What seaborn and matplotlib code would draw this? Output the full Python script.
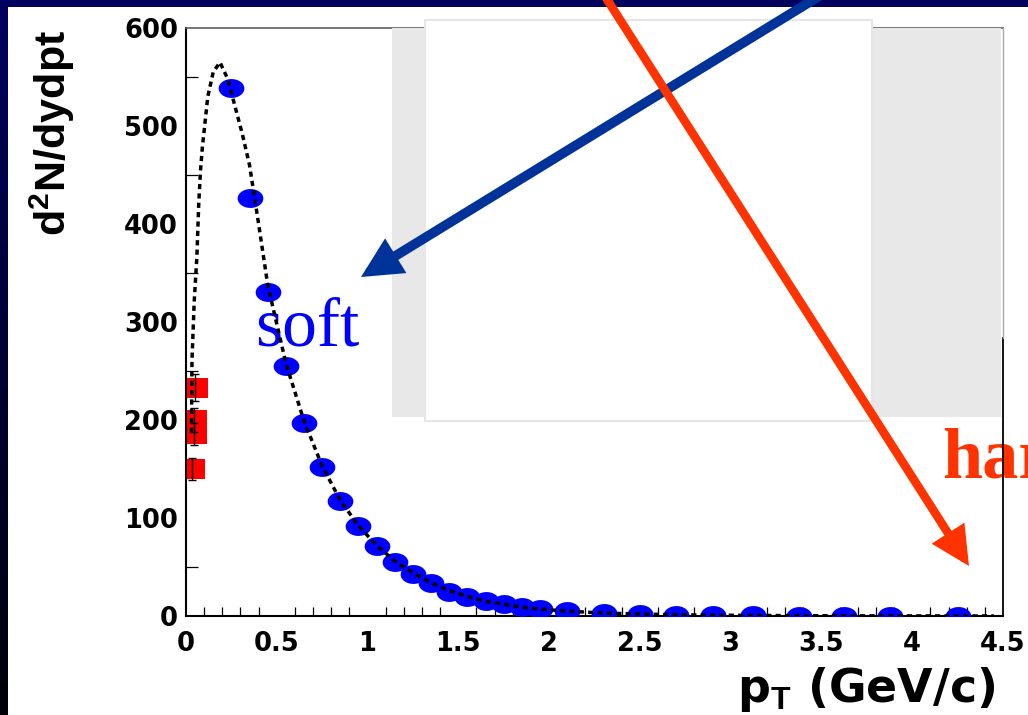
import numpy as np
import matplotlib
matplotlib.use("Agg")
import matplotlib.pyplot as plt
import seaborn as sns
from matplotlib.path import Path
from matplotlib.patches import Rectangle, FancyArrowPatch, ArrowStyle
from matplotlib.lines import Line2D
from matplotlib.ticker import MultipleLocator

# ---- data -------------------------------------------------------------
# measured pT spectrum (blue points)
pt = [0.25, 0.35, 0.45, 0.55, 0.65, 0.75, 0.85, 0.95, 1.05, 1.15, 1.25,
      1.35, 1.45, 1.55, 1.65, 1.75, 1.85, 1.95, 2.1, 2.3, 2.5, 2.7, 2.9,
      3.125, 3.375, 3.625, 3.875, 4.25]
dndpt = [539, 427, 331, 255, 197, 152, 117, 92, 71.5, 55, 43,
         34, 25, 19, 15, 12, 9, 7, 5, 3, 2, 1.3, 0.9,
         0.6, 0.35, 0.2, 0.12, 0.06]

# low-pT points (red squares) with errors
pt_low = [0.050, 0.045, 0.043, 0.035]
dndpt_low = [233, 200, 186, 150]
err_low = [14, 12, 11, 11]

# fit function (dotted curve)
fit_pt = [0.030, 0.033, 0.045, 0.060, 0.070, 0.080, 0.090, 0.105, 0.120,
          0.150, 0.187, 0.230, 0.270, 0.310, 0.350, 0.400, 0.450, 0.550,
          0.650, 0.750, 0.850, 0.950, 1.050, 1.150, 1.250, 1.350, 1.450,
          1.550, 1.650, 1.750, 1.850, 1.950, 2.100, 2.300, 2.500, 2.700,
          2.900, 3.100, 3.400, 3.600, 3.900, 4.200, 4.450]
fit_val = [187, 261, 320, 367, 420, 455, 478, 504, 530,
           555, 565, 548, 520, 492, 460, 400, 338, 258,
           199, 153, 118, 92, 72, 56, 44, 34, 26,
           20, 15, 12, 9, 7, 5, 3, 2, 1.3,
           0.9, 0.6, 0.35, 0.2, 0.12, 0.07, 0.04]

xticks = [0, 0.5, 1, 1.5, 2, 2.5, 3, 3.5, 4, 4.5]
xtick_labels = ["0", "0.5", "1", "1.5", "2", "2.5", "3", "3.5", "4", "4.5"]
yticks = [0, 100, 200, 300, 400, 500, 600]
ytick_labels = ["0", "100", "200", "300", "400", "500", "600"]

# ---- style ------------------------------------------------------------
sns.set_theme(style="white")
plt.rcParams["font.family"] = ["DejaVu Sans"]
plt.rcParams["font.weight"] = "bold"
plt.rcParams["mathtext.fontset"] = "custom"
plt.rcParams["mathtext.bf"] = "Liberation Sans:bold"
plt.rcParams["mathtext.rm"] = "Liberation Sans:bold"
plt.rcParams["mathtext.it"] = "Liberation Sans:bold"

W, H = 1028, 715
fig = plt.figure(figsize=(W / 100, H / 100), dpi=100)
fig.patch.set_facecolor("white")


def fx(px):
    return px / W


def fy(py):
    return 1 - py / H


ax = fig.add_axes([fx(186), fy(616), (1003 - 186) / W, (616 - 28) / H])
ax.set_facecolor("white")

# marker shapes: flattened ellipse and wide square
theta = np.linspace(0, 2 * np.pi, 65)
ellipse = Path(np.column_stack([1.36 * np.cos(theta), np.sin(theta)]), closed=True)
wide_sq = Path([(-1.27, -1), (1.27, -1), (1.27, 1), (-1.27, 1), (-1.27, -1)], closed=True)

sns.scatterplot(x=pt_low, y=dndpt_low, marker=wide_sq, s=18.5 ** 2,
                color="#ff0000", linewidth=0, ax=ax, zorder=2)
ax.errorbar(pt_low, dndpt_low, yerr=err_low, fmt="none", ecolor="black",
            elinewidth=1.0, capsize=3, capthick=1.0, zorder=2.2)
sns.scatterplot(x=pt, y=dndpt, marker=ellipse, s=18.5 ** 2,
                color="#0000ff", linewidth=0, ax=ax, zorder=3)
sns.lineplot(x=fit_pt, y=fit_val, sort=False, estimator=None, color="black",
             lw=2.5, ax=ax, zorder=4)
ax.lines[-1].set_dashes((1.5, 1.2))

ax.set_xlim(0, 4.5)
ax.set_ylim(0, 600)
ax.set_xlabel("")
ax.set_ylabel("")
ax.set_xticks(xticks, xtick_labels)
ax.set_yticks(yticks, ytick_labels)
ax.xaxis.set_minor_locator(MultipleLocator(0.1))
ax.yaxis.set_minor_locator(MultipleLocator(50))
ax.tick_params(axis="y", which="major", direction="in", length=18, width=0.9,
               pad=5.8, labelsize=18.5, color="black", labelcolor="black")
ax.tick_params(axis="y", which="minor", direction="in", length=8.6, width=0.9,
               color="black", left=True)
ax.tick_params(axis="x", which="major", direction="in", length=13, width=0.9,
               pad=11, labelsize=18.5, color="black", labelcolor="black")
ax.tick_params(axis="x", which="minor", direction="in", length=6.5, width=0.9,
               color="black", bottom=True)
for lbl in ax.get_xticklabels() + ax.get_yticklabels():
    lbl.set_fontweight("bold")

for side in ["left", "bottom"]:
    ax.spines[side].set_color("black")
    ax.spines[side].set_linewidth(1.5)
ax.spines["top"].set_color("#606060")
ax.spines["top"].set_linewidth(1.2)
ax.spines["right"].set_color("black")
ax.spines["right"].set_linewidth(1.3)
ax.spines["right"].set_bounds(0, 284)

# axis titles
fig.text(fx(52), fy(30), r"$\mathbf{d^{2}N/dydpt}$", rotation=90,
         ha="center", va="top", fontsize=31, color="black")
fig.text(fx(995), fy(702), r"p$_{\mathbf{T}}$ (GeV/c)", ha="right",
         va="baseline", fontsize=33, fontweight="bold", color="black")

# annotations
ax.text(fx(255), fy(346), "soft", transform=fig.transFigure,
        family="Liberation Serif", fontweight="normal", fontsize=50,
        color="#0000ff", ha="left", va="baseline", zorder=1.5)
ax.text(fx(942), fy(477), "hard", transform=fig.transFigure,
        family="Liberation Serif", fontweight="bold", fontsize=52,
        color="#ff3300", ha="left", va="baseline", zorder=0.5, clip_on=False)

# overlay panels
fig.add_artist(Rectangle((fx(392), fy(417)), (1001 - 392) / W, (417 - 28) / H,
                         transform=fig.transFigure, facecolor="#e8e8e8",
                         edgecolor="none", zorder=1))
fig.add_artist(Line2D([fx(1003), fx(1003)], [fy(338), fy(28)],
                      transform=fig.transFigure, color="#a8a8a8", lw=1.0, zorder=1.1))
fig.add_artist(Rectangle((fx(425), fy(421)), (872 - 425) / W, (421 - 20) / H,
                         transform=fig.transFigure, facecolor="white",
                         edgecolor="#e6e6e6", lw=1.5, zorder=1.2))

# slide border
fig.add_artist(Rectangle((0, fy(7)), 1, 7 / H, transform=fig.transFigure,
                         facecolor="#00005f", edgecolor="none", zorder=1.5))
ax_strip = fig.add_axes([0, 0, 8 / W, 1 - 7 / H])
grad = np.linspace(0, 1, 256)[:, None, None]
top_c = np.array([0.0, 0.0, 0.37])
bot_c = np.array([0.0, 0.0, 0.04])
ax_strip.imshow(top_c * (1 - grad) + bot_c * grad, aspect="auto")
ax_strip.set_axis_off()

# arrows
blue_arrow = FancyArrowPatch((fx(826), fy(-8)), (fx(361), fy(277)),
                             transform=fig.transFigure,
                             arrowstyle=ArrowStyle("-|>", head_length=18, head_width=9),
                             color="#003399", lw=7, shrinkA=0, shrinkB=0,
                             mutation_scale=1, zorder=5, joinstyle="miter")
red_arrow = FancyArrowPatch((fx(601), fy(-10)), (fx(969), fy(566)),
                            transform=fig.transFigure,
                            arrowstyle=ArrowStyle("-|>", head_length=18, head_width=9),
                            color="#ff3300", lw=6.2, shrinkA=0, shrinkB=0,
                            mutation_scale=1, zorder=5, joinstyle="miter")
fig.add_artist(blue_arrow)
fig.add_artist(red_arrow)

fig.savefig("out.png", dpi=100, facecolor=fig.get_facecolor())
